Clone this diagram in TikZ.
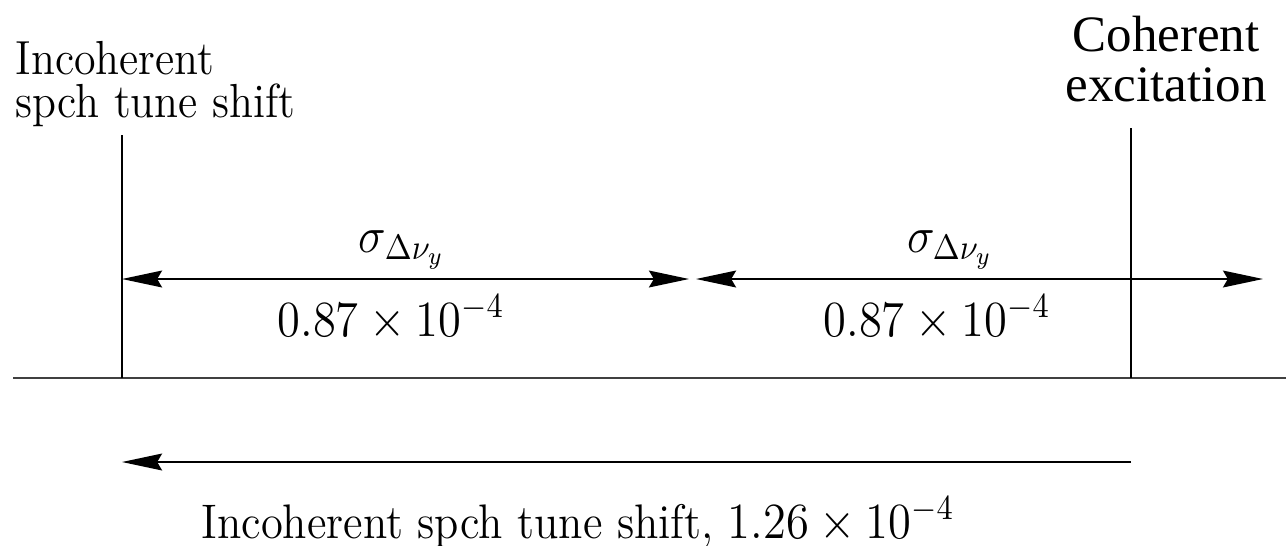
\documentclass[tikz,border=0pt]{standalone}
\usepackage{fontspec}
\usepackage{tikz}
\usetikzlibrary{arrows.meta}
\newfontfamily\timesfont{Liberation Serif}

\tikzset{
  spreadtip/.tip={Stealth[length=11.4pt, width=4.8pt, inset=1.4pt]},
  lmtext/.style={inner sep=0pt, xscale=0.92, font=\fontsize{13.6}{12.2}\selectfont},
  cohtext/.style={inner sep=0pt, font=\timesfont\fontsize{14.5}{14.2}\selectfont},
  mathlbl/.style={inner sep=0pt, xscale=0.92, font=\fontsize{14.2}{14.2}\selectfont},
  marker/.style={line width=0.75pt},
}

\begin{document}
\begin{tikzpicture}[x=0.01cm, y=-0.01cm, line width=0.45pt]
  \useasboundingbox (0,0) rectangle (1286,545);
  % tune axis
  \coordinate (axL) at (13,378);
  \coordinate (axR) at (1286,378);
  \draw[black!75] (axL) -- (axR);
  % incoherent and coherent markers
  \node[lmtext, anchor=north west, align=left] (incLabel) at (15,41)
    {Incoherent\\spch tune shift};
  \node[cohtext, anchor=north, align=center] (cohLabel) at (1166,15)
    {Coherent\\excitation};
  \coordinate (incTop) at (122,135);
  \coordinate (incFoot) at (122,378);
  \coordinate (cohTop) at (1131,128);
  \coordinate (cohFoot) at (1131,378);
  \draw[marker] (incTop) -- (incFoot);
  \draw[marker] (cohTop) -- (cohFoot);
  % spread arrows
  \coordinate (sprA1) at (122,279);
  \coordinate (sprA2) at (689,279);
  \coordinate (sprB1) at (696,279);
  \coordinate (sprB2) at (1263,279);
  \draw[spreadtip-spreadtip] (sprA1) -- (sprA2);
  \draw[spreadtip-spreadtip] (sprB1) -- (sprB2);
  \node[mathlbl, anchor=base] (sigA) at (402,252) {$\sigma_{\Delta\nu_y}$};
  \node[mathlbl, anchor=base] (valA) at (391,336) {$0.87\times10^{-4}$};
  \node[mathlbl, anchor=base] (sigB) at (950,252) {$\sigma_{\Delta\nu_y}$};
  \node[mathlbl, anchor=base] (valB) at (937,336) {$0.87\times10^{-4}$};
  % full shift
  \coordinate (shiftEnd) at (1131,462);
  \coordinate (shiftTip) at (122,462);
  \draw[-spreadtip] (shiftEnd) -- (shiftTip);
  \node[lmtext, font=\fontsize{13.8}{14}\selectfont, anchor=base] (shiftLabel) at (578,538)
    {Incoherent spch tune shift, $1.26\times10^{-4}$};
\end{tikzpicture}
\end{document}
